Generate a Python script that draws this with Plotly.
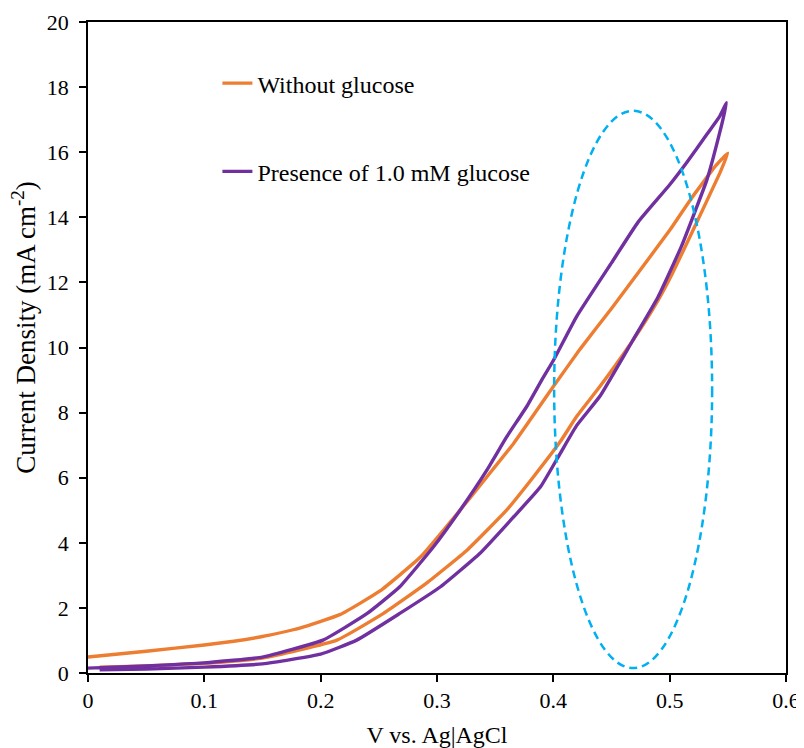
import plotly.graph_objects as go

# Cyclic voltammograms (V vs. Ag|AgCl, mA cm^-2)
# Without glucose: upper branch (0 -> 0.55 V) then lower branch back
v_blank_up = [0.0, 0.05, 0.10, 0.15, 0.182, 0.217, 0.251, 0.286, 0.32, 0.343, 0.366, 0.40, 0.423, 0.45, 0.50, 0.518, 0.54, 0.55]
j_blank_up = [0.49, 0.67, 0.86, 1.12, 1.38, 1.80, 2.52, 3.57, 5.01, 6.03, 7.06, 8.8, 9.95, 11.2, 13.6, 14.55, 15.6, 15.97]
v_blank_down = [0.55, 0.543, 0.522, 0.502, 0.49, 0.468, 0.44, 0.42, 0.406, 0.383, 0.36, 0.326, 0.291, 0.254, 0.214, 0.15, 0.10, 0.05, 0.01]
j_blank_down = [15.97, 15.35, 13.75, 12.25, 11.45, 10.2, 8.8, 7.88, 7.11, 6.03, 5.01, 3.78, 2.76, 1.83, 1.01, 0.46, 0.30, 0.22, 0.18]

# Presence of 1.0 mM glucose
v_gluc_up = [0.0, 0.05, 0.10, 0.15, 0.202, 0.24, 0.268, 0.297, 0.32, 0.343, 0.36, 0.377, 0.39, 0.40, 0.42, 0.45, 0.473, 0.50, 0.515, 0.532, 0.543, 0.549]
j_gluc_up = [0.15, 0.22, 0.31, 0.49, 1.01, 1.83, 2.65, 3.88, 5.01, 6.24, 7.26, 8.18, 9.0, 9.6, 10.95, 12.6, 13.86, 15.0, 15.7, 16.55, 17.1, 17.52]
v_gluc_down = [0.549, 0.543, 0.532, 0.522, 0.51, 0.49, 0.468, 0.44, 0.42, 0.406, 0.389, 0.366, 0.337, 0.303, 0.268, 0.231, 0.20, 0.15, 0.10, 0.05, 0.01]
j_gluc_down = [17.52, 16.6, 15.15, 14.2, 13.1, 11.55, 10.2, 8.5, 7.6, 6.75, 5.72, 4.8, 3.68, 2.65, 1.83, 1.01, 0.58, 0.28, 0.18, 0.12, 0.10]

series_names = ["Without glucose", "Presence of 1.0 mM glucose"]
series_colors = ["#ED7D31", "#7030A0"]

x_ticks = [0, 0.1, 0.2, 0.3, 0.4, 0.5, 0.6]
y_ticks = [0, 2, 4, 6, 8, 10, 12, 14, 16, 18, 20]

# highlighted region (dashed ellipse)
ellipse_v = [0.4007, 0.5365]
ellipse_j = [0.15, 17.27]

FONT = "Liberation Serif, Times New Roman, serif"

fig = go.Figure()
loops = [
    (v_blank_up + v_blank_down[1:], j_blank_up + j_blank_down[1:]),
    (v_gluc_up + v_gluc_down[1:], j_gluc_up + j_gluc_down[1:]),
]
for i, (xs, ys) in enumerate(loops):
    fig.add_trace(go.Scatter(
        x=xs, y=ys, mode="lines", name=series_names[i],
        legendgroup=str(i),
        line=dict(color=series_colors[i], width=3.4, shape="spline", smoothing=0.4),
    ))

fig.add_shape(type="circle", xref="x", yref="y",
              x0=ellipse_v[0], x1=ellipse_v[1], y0=ellipse_j[0], y1=ellipse_j[1],
              line=dict(color="#00B0F0", width=2.5, dash="8px,5px"), layer="above")

axis_common = dict(
    showline=True, linecolor="black", linewidth=1.5, mirror=True,
    ticks="outside", ticklen=7, tickwidth=1.5, tickcolor="black",
    showgrid=False, zeroline=False, automargin=False,
    tickfont=dict(family=FONT, size=22, color="black"),
)

fig.update_xaxes(range=[0, 0.6], tickvals=x_ticks, ticktext=[str(t) for t in x_ticks],
                 title=dict(text="V vs. Ag|AgCl", font=dict(family=FONT, size=24, color="black"), standoff=21),
                 **axis_common)
fig.update_yaxes(range=[0, 20], tickvals=y_ticks, ticklabelstandoff=6, **axis_common)

# y title sits a little above the plot centre in the original, so it is placed as an annotation
fig.add_annotation(text="Current Density (mA cm<sup>-2</sup>)", xref="paper", yref="paper",
                   x=-0.092, y=0.53, xanchor="center", yanchor="middle", textangle=-90,
                   showarrow=False, font=dict(family=FONT, size=27, color="black"))

# the page body adds an 8px offset, so the figure is sized to fit the window
fig.update_layout(
    width=796, height=740,
    margin=dict(l=80, r=18, t=14, b=75),
    plot_bgcolor="white", paper_bgcolor="white",
    font=dict(family=FONT, size=22, color="black"),
    legend=dict(x=0.1854, y=0.94, xanchor="left", yanchor="top",
                bgcolor="rgba(0,0,0,0)", traceorder="grouped", tracegroupgap=54,
                font=dict(family=FONT, size=24, color="black")),
)

fig.write_html("out.html")
